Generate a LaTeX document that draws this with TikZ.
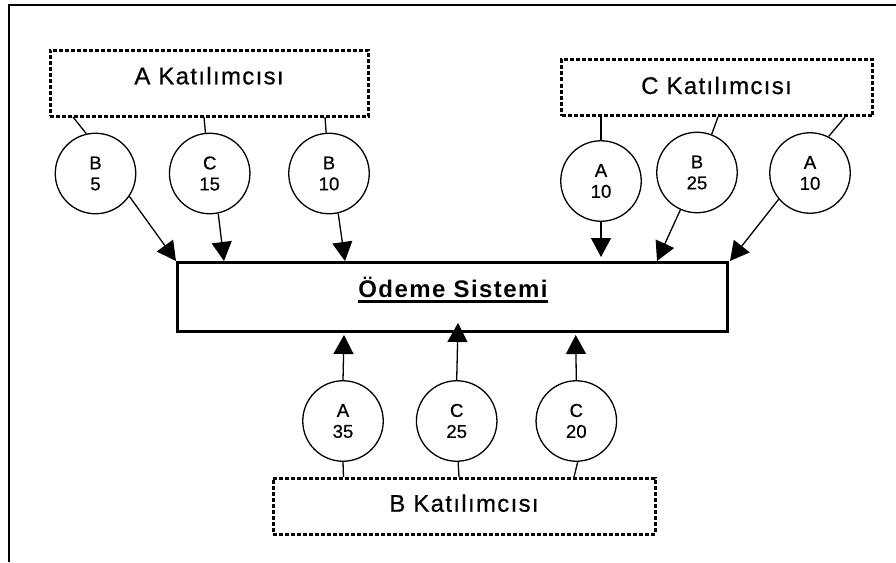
\documentclass[tikz,border=0pt]{standalone}
\usepackage{fontspec}
\setmainfont{Liberation Sans}
\usetikzlibrary{arrows.meta}

% thick underline for the system title
\newcommand\heavyul[1]{\setbox0\hbox{#1}\rlap{\rule[-5.5pt]{\wd0}{3pt}}\box0}

\tikzset{
  frameline/.style={line width=2.2pt},
  partbox/.style={draw, line width=3pt, dash pattern=on 4pt off 2pt,
    inner sep=0pt},
  systembox/.style={draw, line width=3pt, inner sep=0pt},
  boxlabel/.style={anchor=base, inner sep=0pt,
    font=\fontsize{24}{27}\selectfont\addfontfeature{LetterSpace=5.5,FakeBold=0.6}},
  token/.style={circle, draw, line width=1.3pt, minimum size=80.5pt,
    inner sep=0pt, align=center,
    font=\fontsize{18.6}{21}\selectfont\addfontfeature{FakeBold=0.6}},
  link/.style={line width=1.3pt},
  flow/.style={line width=1.3pt, -{Triangle[length=19pt,width=20pt]}},
}

\begin{document}
\begin{tikzpicture}[x=1pt, y=-1pt]
\useasboundingbox (0,0) rectangle (896,562);

% page frame
\draw[frameline] (9,562) -- (9,5) -- (896,5);

% participants
\node[partbox, minimum width=318.5pt, minimum height=66pt] (pa) at (209.25,83) {};
\node[boxlabel] (pal) at (209,84.3) {A Katılımcısı};
\node[partbox, minimum width=311pt, minimum height=56pt] (pc) at (717,87.5) {};
\node[boxlabel] (pcl) at (716.5,94) {C Katılımcısı};
\node[partbox, minimum width=382pt, minimum height=56pt] (pb) at (464.2,506.2) {};
\node[boxlabel] (pbl) at (464,511.7) {B Katılımcısı};

% payment system
\node[systembox, minimum width=550.3pt, minimum height=68.7pt] (sys) at (452.3,296.8) {};
\node[boxlabel, font=\fontsize{24}{27}\selectfont\bfseries\addfontfeature{LetterSpace=6}] (sysl) at (453,297.5) {\heavyul{Ödeme Sistemi}};

% payment orders
\node[token] (a1) at (95.5,173.5) {B\\5};
\node[token] (a2) at (209.7,173.5) {C\\15};
\node[token] (a3) at (329,173.5) {B\\10};
\node[token] (c1) at (601,181) {A\\10};
\node[token] (c2) at (697,172.5) {B\\25};
\node[token] (c3) at (810,173) {A\\10};
\node[token] (b1) at (343,421) {A\\35};
\node[token] (b2) at (456.7,421) {C\\25};
\node[token] (b3) at (576.3,421) {C\\20};

% link points on the participant boxes
\coordinate (pa1) at (73,117);
\coordinate (pa2) at (204,117);
\coordinate (pa3) at (325,117);
\coordinate (pc1) at (601,117);
\coordinate (pc2) at (718,117);
\coordinate (pc3) at (845,117);
\coordinate (pb1) at (343.5,477);
\coordinate (pb2) at (459,477);
\coordinate (pb3) at (574,477);

% arrival points on the payment system
\coordinate (s1) at (176,261);
\coordinate (s2) at (224,261);
\coordinate (s3) at (345,261);
\coordinate (s4) at (601,257);
\coordinate (s5) at (657,261);
\coordinate (s6) at (730,261);
\coordinate (s7) at (344,335);
\coordinate (s8) at (458,323);
\coordinate (s9) at (575.7,335);

% participant to order
\draw[link] (pa1) -- (a1.103);
\draw[link] (pa2) -- (a2.96);
\draw[link] (pa3) -- (a3.94);
\draw[link] (pc1) -- (c1.90);
\draw[link] (pc2) -- (c2.69);
\draw[link] (pc3) -- (c3.63);
\draw[link] (pb1) -- (b1.270);
\draw[link] (pb2) -- (b2.272);
\draw[link] (pb3) -- (b3.272);

% order to system
\draw[flow] (a1.-34) -- (s1);
\draw[flow] (a2.-78) -- (s2);
\draw[flow] (a3.-77) -- (s3);
\draw[flow] (c1.-90) -- (s4);
\draw[flow] (c2.-114) -- (s5);
\draw[flow] (c3.-140) -- (s6);
\draw[flow] (b1.90) -- (s7);
\draw[flow] (b2.90) -- (s8);
\draw[flow] (b3.90) -- (s9);
\end{tikzpicture}
\end{document}
